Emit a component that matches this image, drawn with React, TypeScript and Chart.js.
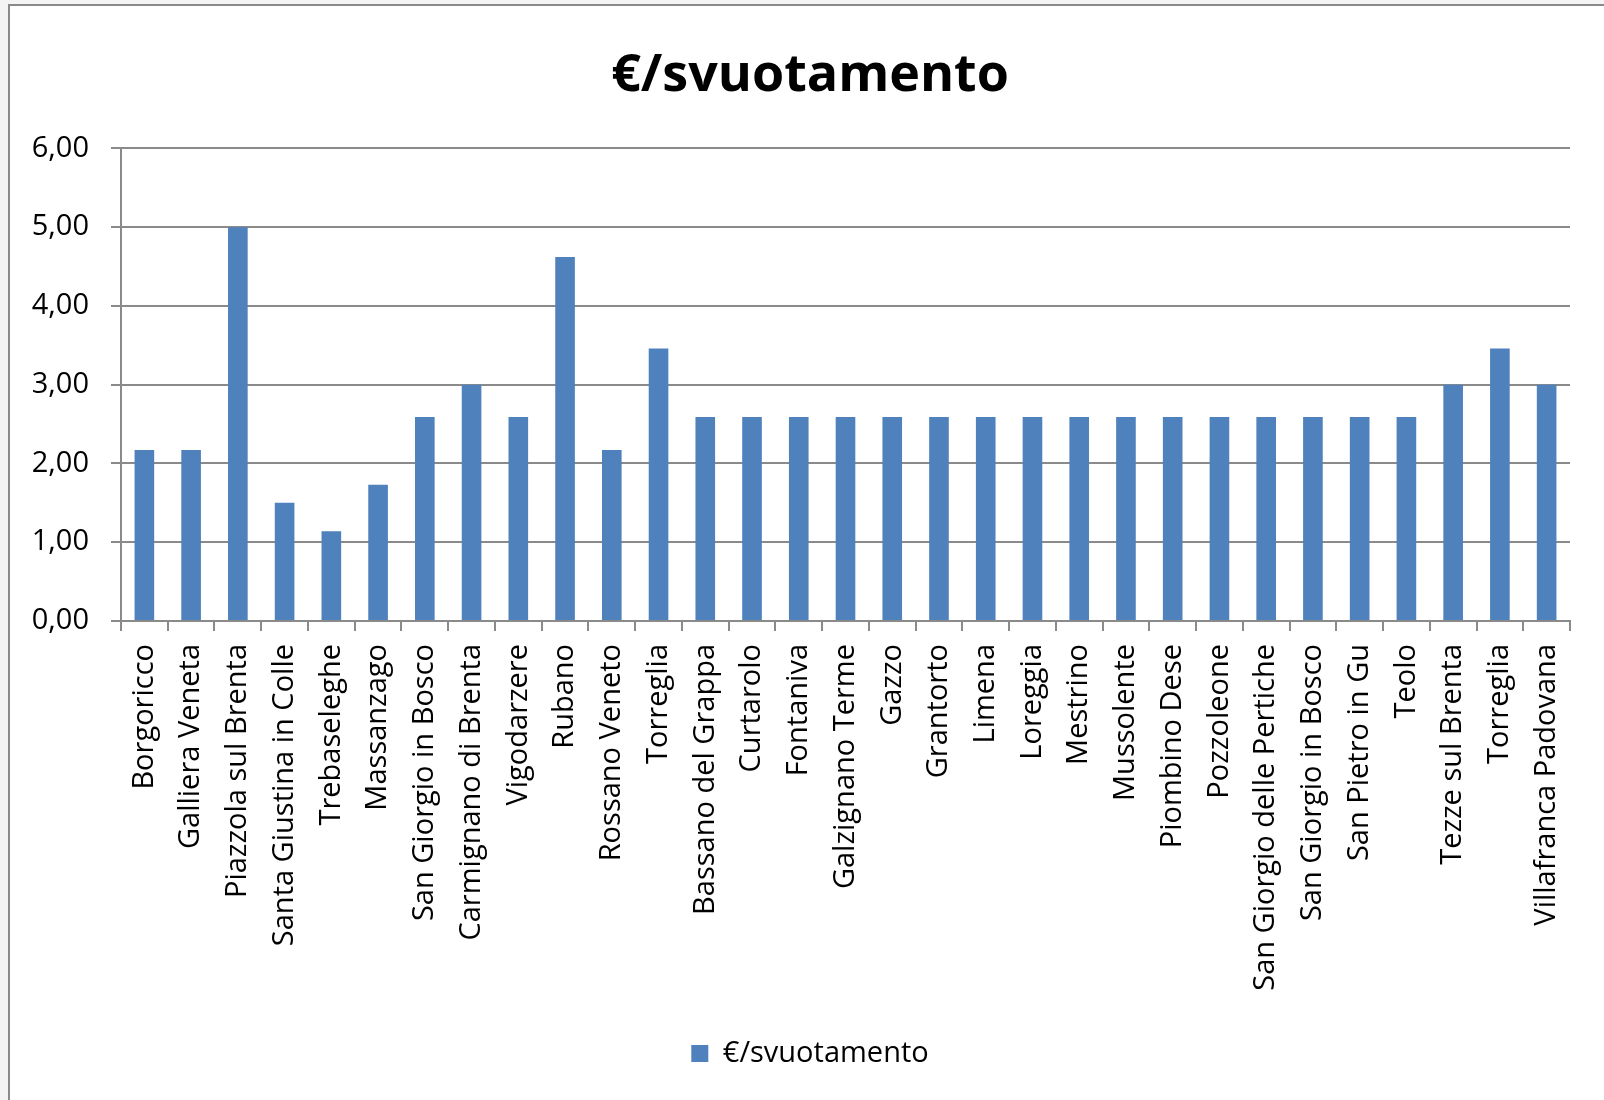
import React, { useEffect, useRef } from "react";
import { Chart, registerables } from "chart.js";

Chart.register(...registerables);

const categories = [
  "Borgoricco",
  "Galliera Veneta",
  "Piazzola sul Brenta",
  "Santa Giustina in Colle",
  "Trebaseleghe",
  "Massanzago",
  "San Giorgio in Bosco",
  "Carmignano di Brenta",
  "Vigodarzere",
  "Rubano",
  "Rossano Veneto",
  "Torreglia",
  "Bassano del Grappa",
  "Curtarolo",
  "Fontaniva",
  "Galzignano Terme",
  "Gazzo",
  "Grantorto",
  "Limena",
  "Loreggia",
  "Mestrino",
  "Mussolente",
  "Piombino Dese",
  "Pozzoleone",
  "San Giorgio delle Pertiche",
  "San Giorgio in Bosco",
  "San Pietro in Gu",
  "Teolo",
  "Tezze sul Brenta",
  "Torreglia",
  "Villafranca Padovana",
];

const euroPerEmptying = [
  2.17, 2.17, 5.0, 1.5, 1.14, 1.73, 2.59, 3.0, 2.59, 4.62, 2.17, 3.46, 2.59,
  2.59, 2.59, 2.59, 2.59, 2.59, 2.59, 2.59, 2.59, 2.59, 2.59, 2.59, 2.59, 2.59,
  2.59, 2.59, 3.0, 3.46, 3.0,
];

const yTickLabels = ["0,00", "1,00", "2,00", "3,00", "4,00", "5,00", "6,00"];

const seriesName = "€/svuotamento";
const chartTitle = "€/svuotamento";

const FONT = "'Open Sans', 'Noto Sans', sans-serif";
const GRID = "#8a8a8a";

export default function App() {
  const canvasRef = useRef<HTMLCanvasElement | null>(null);

  useEffect(() => {
    const canvas = canvasRef.current;
    if (!canvas) return;
    Chart.defaults.font.family = FONT;
    Chart.defaults.color = "#000000";
    const chart = new Chart(canvas, {
      type: "bar",
      data: {
        labels: categories,
        datasets: [
          {
            label: seriesName,
            data: euroPerEmptying,
            backgroundColor: "#4f81bd",
            borderWidth: 0,
            barPercentage: 0.42,
            categoryPercentage: 1.0,
            yAxisID: "y",
          },
        ],
      },
      options: {
        responsive: false,
        animation: false,
        maintainAspectRatio: false,
        layout: { padding: { left: 16, right: 0, top: 0, bottom: 22 } },
        plugins: {
          title: {
            display: true,
            text: chartTitle,
            color: "#000000",
            font: { family: FONT, size: 52, weight: "bold" },
            padding: { top: 45, bottom: 41 },
          },
          legend: {
            display: true,
            position: "bottom",
            labels: {
              color: "#000000",
              font: { family: FONT, size: 29 },
              boxWidth: 17,
              boxHeight: 17,
              padding: 10,
            },
          },
          tooltip: { enabled: false },
        },
        scales: {
          x: {
            grid: {
              display: true,
              drawOnChartArea: false,
              drawTicks: true,
              tickLength: 10,
              color: GRID,
              lineWidth: 2,
              offset: true,
            },
            border: { display: true, color: GRID, width: 2 },
            ticks: {
              autoSkip: false,
              minRotation: 90,
              maxRotation: 90,
              padding: 13,
              color: "#000000",
              font: { family: FONT, size: 29 },
            },
            afterFit: (scale: any) => {
              scale.height = 408;
            },
          },
          y: {
            position: "left",
            min: 0,
            max: 6,
            grid: {
              display: true,
              drawTicks: true,
              tickLength: 10,
              color: GRID,
              lineWidth: 2,
            },
            border: { display: true, color: GRID, width: 2 },
            ticks: {
              stepSize: 1,
              padding: 22,
              color: "#000000",
              font: { family: FONT, size: 29 },
              callback: (_v: any, i: number) => yTickLabels[i],
            },
            afterFit: (scale: any) => {
              scale.width = 105;
            },
          },
          spacer: {
            type: "linear",
            position: "right",
            display: true,
            grid: { display: false, drawTicks: false },
            border: { display: false },
            ticks: { display: false },
            afterFit: (scale: any) => {
              scale.width = 34;
            },
          },
        },
      },
    });
    return () => chart.destroy();
  }, []);

  return (
    <div
      style={{
        position: "fixed",
        left: 0,
        top: 0,
        width: 1604,
        height: 1100,
        background: "#f4f4f4",
        overflow: "hidden",
      }}
    >
      <div
        style={{
          position: "absolute",
          left: 8,
          top: 4,
          width: 1604,
          height: 1100,
          background: "#ffffff",
          borderLeft: "2px solid #8a8a8a",
          borderTop: "2px solid #8a8a8a",
        }}
      />
      <canvas
        ref={canvasRef}
        width={1604}
        height={1100}
        style={{ position: "absolute", left: 0, top: 0, width: 1604, height: 1100 }}
      />
    </div>
  );
}
